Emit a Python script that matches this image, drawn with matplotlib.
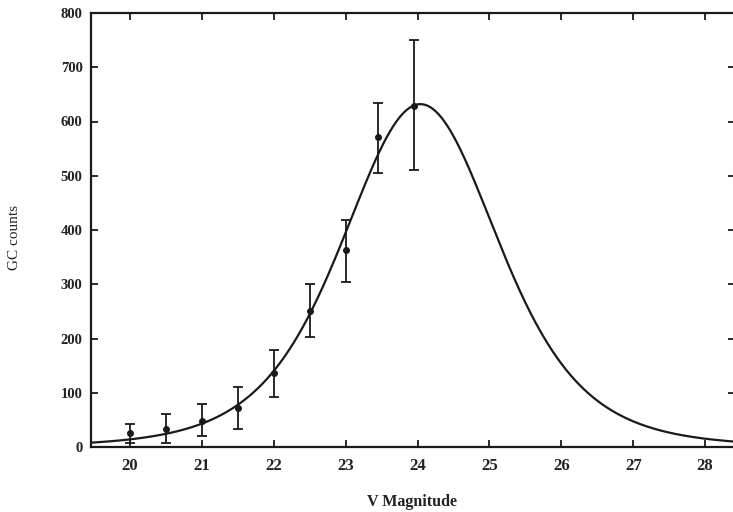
import numpy as np
import matplotlib
matplotlib.use("Agg")
import matplotlib.pyplot as plt

mag = [20.0, 20.5, 21.0, 21.5, 22.0, 22.5, 23.0, 23.45, 23.95]
counts = [25, 34, 48, 72, 136, 251, 363, 571, 628]
err_lo = [18, 26, 27, 39, 43, 49, 58, 66, 117]
err_hi = [17, 27, 31, 39, 43, 49, 55, 63, 122]

# Fitted t5 model parameters
fit_peak = 632.0
fit_mean = 24.04
fit_sigma = 1.13

x_ticks = [20, 21, 22, 23, 24, 25, 26, 27, 28]
y_ticks = [0, 100, 200, 300, 400, 500, 600, 700, 800]
x_label = "V Magnitude"
y_label = "GC counts"

plt.rcParams['font.family'] = ['Liberation Serif', 'DejaVu Serif']

fig = plt.figure(figsize=(7.33, 5.12), dpi=100)
ax = fig.add_axes([91/733, 65/512, 644/733, 434/512])

xs = np.linspace(19.3, 28.6, 600)
model = fit_peak * (1 + (xs - fit_mean) ** 2 / (5 * fit_sigma ** 2)) ** -3
ax.plot(xs, model, color='#1a1a1a', lw=1.6, zorder=2)

ax.errorbar(mag, counts, yerr=[err_lo, err_hi], fmt='o', color='#1a1a1a',
            ms=4, elinewidth=1.3, capsize=3.5, capthick=1.3, zorder=3)

ax.set_xlim(19.457, 28.417)
ax.set_ylim(0, 800)
ax.set_xticks(x_ticks)
ax.set_yticks(y_ticks)
ax.tick_params(axis='both', direction='in', length=5, width=1.3,
               top=True, right=True, color='#1a1a1a')
ax.tick_params(axis='x', labelsize=12, pad=8)
ax.tick_params(axis='y', labelsize=10.5, pad=6)
for lab in ax.get_xticklabels() + ax.get_yticklabels():
    lab.set_fontweight('bold')
    lab.set_color('#222222')
for s in ax.spines.values():
    s.set_linewidth(1.6)
    s.set_color('#1a1a1a')

fig.text(412/733, 1 - 502/512, x_label, ha='center', va='center',
         fontsize=11.5, fontweight='bold', color='#222222')
fig.text(15/733, 1 - 238/512, y_label, ha='center', va='center',
         rotation=90, fontsize=11, color='#222222')

fig.savefig("out.png", dpi=100, facecolor='white')
